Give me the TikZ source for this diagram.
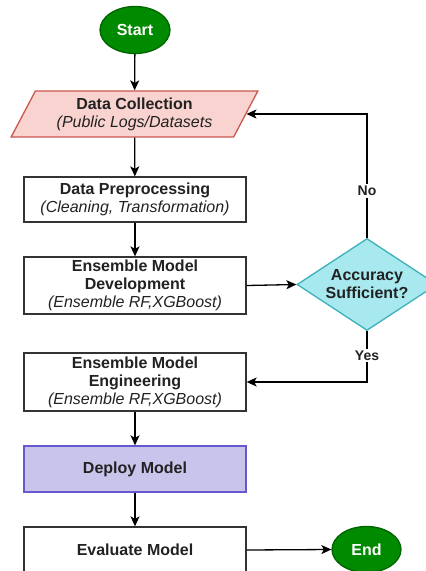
\documentclass[tikz,border=0pt]{standalone}
\usepackage{fontspec}
\setmainfont{Liberation Sans}
\usetikzlibrary{shapes.geometric,arrows.meta}
\definecolor{txt}{HTML}{222222}
\definecolor{startfill}{HTML}{008A00}
\definecolor{startdraw}{HTML}{006400}
\definecolor{pinkfill}{HTML}{F9D3CF}
\definecolor{pinkdraw}{HTML}{C9584F}
\definecolor{cyanfill}{HTML}{A8E9EF}
\definecolor{cyandraw}{HTML}{3DB0B9}
\definecolor{lavfill}{HTML}{C9C4EC}
\definecolor{lavdraw}{HTML}{6658CF}
\definecolor{boxdraw}{HTML}{333333}
\tikzset{
  base/.style={font=\fontsize{16}{18}\selectfont, text=txt, align=center, line width=1.3pt, inner sep=0pt},
  term/.style={base, ellipse, fill=startfill, draw=startdraw, text=white, font=\fontsize{16}{18}\selectfont\bfseries, minimum width=70, minimum height=47},
  iobox/.style={base, trapezium, trapezium left angle=60, trapezium right angle=120, trapezium stretches=true, fill=pinkfill, draw=pinkdraw, minimum width=247, minimum height=46},
  procbox/.style={base, rectangle, fill=white, draw=boxdraw, minimum width=222},
  decbox/.style={base, diamond, fill=cyanfill, draw=cyandraw, minimum width=140, minimum height=92, aspect=1.52},
  deplbox/.style={base, rectangle, fill=lavfill, draw=lavdraw, minimum width=222},
  arr/.style={line width=1.3pt, draw=black, -{Stealth[length=10pt,width=9pt,inset=2.5pt]}},
  lbl/.style={font=\fontsize{14}{16}\selectfont\bfseries, text=txt, fill=white, inner sep=2pt}
}
\begin{document}
\begin{tikzpicture}[x=1pt,y=-1pt]
\useasboundingbox (0,0) rectangle (426,571);
\clip (0,0) rectangle (426,571);
\node[term] (start) at (135,30) {Start};
\node[iobox] (dc) at (134.5,114) {\textbf{Data Collection}\\\textit{(Public Logs/Datasets}};
\node[procbox, minimum height=45] (dp) at (135,199.5) {\textbf{Data Preprocessing}\\\textit{(Cleaning, Transformation)}};
\node[procbox, minimum height=57] (emd) at (135,285.5) {\textbf{Ensemble Model}\\\textbf{Development}\\\textit{(Ensemble RF,XGBoost)}};
\node[decbox] (acc) at (367,284.5) {\textbf{Accuracy}\\\textbf{Sufficient?}};
\node[procbox, minimum height=58] (eme) at (135,382) {\textbf{Ensemble Model}\\\textbf{Engineering}\\\textit{(Ensemble RF,XGBoost)}};
\node[deplbox, minimum height=46] (dep) at (135,469) {\textbf{Deploy Model}};
\node[procbox, minimum height=46] (ev) at (135,550) {\textbf{Evaluate Model}};
\node[term, minimum width=69, minimum height=46] (end) at (366.5,549.5) {End};
\draw[arr] (start) -- (dc);
\draw[arr] (dc) -- (dp);
\draw[arr] (dp) -- (emd);
\draw[arr] (emd.east) -- (acc.west);
\draw[arr] (acc.north) |- node[lbl, pos=0.19] {No} (dc.east);
\draw[arr] (acc.south) |- node[lbl, pos=0.24] {Yes} (eme.east);
\draw[arr] (eme) -- (dep);
\draw[arr] (dep) -- (ev);
\draw[arr] (ev.east) -- (end.west);
\end{tikzpicture}
\end{document}
